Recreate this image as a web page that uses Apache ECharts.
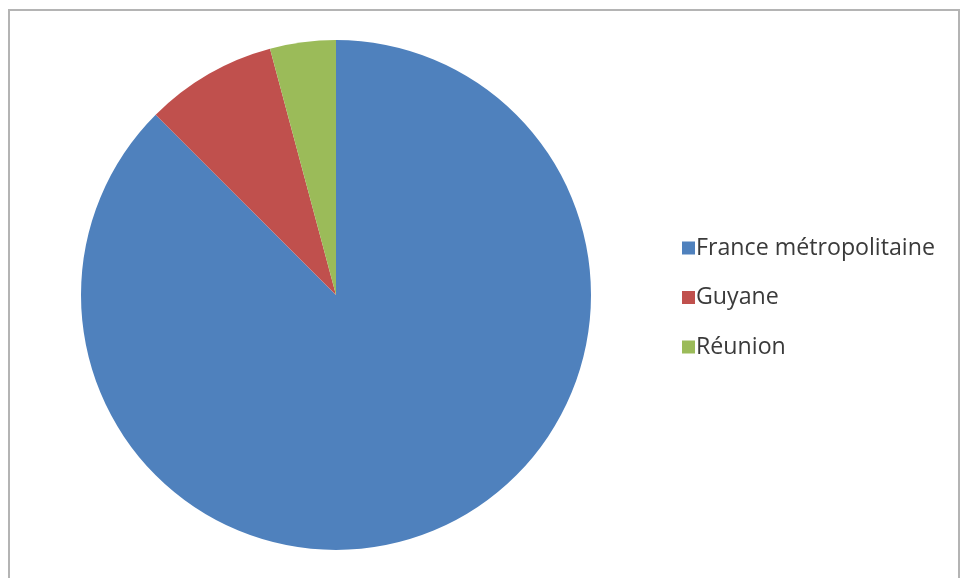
<!DOCTYPE html>
<html>
<head>
<meta charset="utf-8">
<script src="https://cdn.jsdelivr.net/npm/echarts@6/dist/echarts.min.js"></script>
<style>
  html, body { margin: 0; padding: 0; background: #fff; }
  #chart { width: 962px; height: 578px; }
</style>
</head>
<body>
<div id="chart"></div>
<script>
// Regions and their counts
const categories = ['France métropolitaine', 'Guyane', 'Réunion'];
const values = [42, 4, 2];
const colors = ['#4F81BD', '#C0504D', '#9BBB59'];

const chart = echarts.init(document.getElementById('chart'), null, { renderer: 'canvas' });

const pieData = categories.map((name, i) => ({
  name: name,
  value: values[i],
  itemStyle: { color: colors[i] }
}));

chart.setOption({
  animation: false,
  backgroundColor: '#ffffff',
  graphic: [{
    type: 'rect',
    shape: { x: 9, y: 10, width: 950, height: 600 },
    style: { fill: 'none', stroke: '#b4b4b4', lineWidth: 2 },
    z: 0
  }],
  legend: {
    orient: 'vertical',
    left: 677,
    top: 230,
    itemWidth: 13,
    itemHeight: 13,
    itemGap: 23.5,
    icon: 'rect',
    textStyle: {
      fontFamily: 'Open Sans',
      fontSize: 23.2,
      lineHeight: 26,
      color: '#3a3a3a',
      padding: [0, 0, 0, -4]
    },
    data: categories
  },
  series: [{
    type: 'pie',
    center: [336, 295],
    radius: 255,
    startAngle: 90,
    clockwise: true,
    label: { show: false },
    labelLine: { show: false },
    itemStyle: { borderWidth: 0 },
    emphasis: { disabled: true },
    data: pieData
  }]
});
</script>
</body>
</html>
